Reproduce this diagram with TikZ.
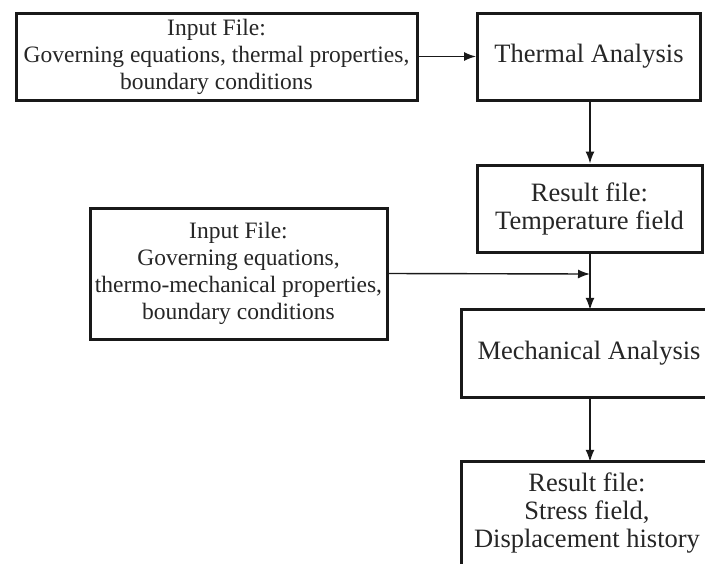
\documentclass[tikz,border=0pt]{standalone}
\usepackage{fontspec}
\setmainfont{Liberation Serif}
\usetikzlibrary{arrows.meta}
\begin{document}
\begin{tikzpicture}[x=1pt,y=-1pt,
  box/.style={draw=black!90, line width=3pt, fill=white, align=center, inner sep=0pt,
    font=\fontsize{23.5}{27}\selectfont, text=black!85},
  big/.style={font=\fontsize{26.5}{28}\selectfont},
  txt/.style={align=center, inner sep=0pt, font=\fontsize{26.5}{28}\selectfont, text=black!85},
  edge/.style={draw=black!90, line width=3pt},
  conn/.style={draw=black!90, line width=1.4pt, -{Latex[length=12pt,width=9pt]}}]
\useasboundingbox (0,0) rectangle (705,563);
\fill[white] (0,0) rectangle (705,563);
\node[box, minimum width=401pt, minimum height=87pt] (in1) at (216.5,56.5)
  {Input File:\\Governing equations, thermal properties,\\boundary conditions};
\node[box, big, minimum width=223pt, minimum height=87pt] (thermal) at (589,56.5)
  {Thermal Analysis};
\node[box, big, minimum width=225pt, minimum height=87pt] (res1) at (589.5,208.5)
  {Result file:\\Temperature field};
\node[box, minimum width=297pt, minimum height=131pt] (in2) at (238.5,273.5)
  {Input File:\\Governing equations,\\thermo-mechanical properties,\\boundary conditions};
\node[txt, minimum width=254pt, minimum height=87pt] (mech) at (589,353.5)
  {Mechanical Analysis};
\draw[edge] (mech.north west) rectangle ([xshift=60pt]mech.south east);
\node[txt, minimum width=254pt, minimum height=103pt] (res2) at (587,513.5)
  {Result file:\\Stress field,\\Displacement history};
\draw[edge] ([xshift=2pt]res2.north west) rectangle ([xshift=60pt]res2.south east);
\coordinate (j) at (590,274);
\draw[conn] (in1.east) -- (thermal.west);
\draw[conn] (thermal.south -| j) -- (res1.north -| j);
\draw[conn] (res1.south -| j) -- (mech.north -| j);
\draw[conn] (in2.east) -- (j);
\draw[conn] (mech.south -| j) -- (res2.north -| j);
\end{tikzpicture}
\end{document}
